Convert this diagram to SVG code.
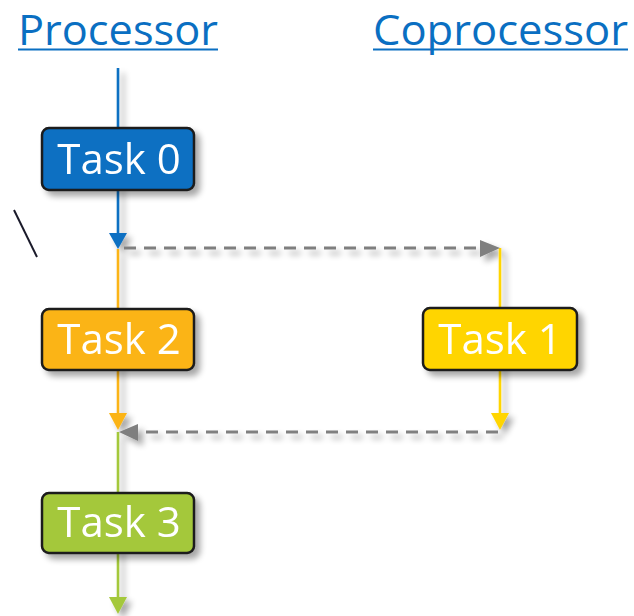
<svg xmlns="http://www.w3.org/2000/svg" width="634" height="616" viewBox="0 0 634 616">
<defs>
<style>
.head{font-family:"Open Sans","DejaVu Sans",sans-serif;font-size:42px;fill:#0a6fc2}
.ul{stroke:#0a6fc2;stroke-width:2.2}
.box{stroke:#1a1a1a;stroke-width:2.5}
.lbl{font-family:"Open Sans","DejaVu Sans",sans-serif;font-size:42px;fill:#ffffff;text-anchor:middle}
.dash{stroke:#7f7f7f;stroke-width:3;stroke-dasharray:12 8;fill:none}
.ln{stroke-width:2.6;fill:none}
</style>
<filter id="sh" x="-20%" y="-20%" width="150%" height="160%">
<feGaussianBlur in="SourceAlpha" stdDeviation="3"/>
<feOffset dx="5" dy="5" result="b"/>
<feComponentTransfer><feFuncA type="linear" slope="0.35"/></feComponentTransfer>
<feMerge><feMergeNode/><feMergeNode in="SourceGraphic"/></feMerge>
</filter>
</defs>
<rect width="634" height="616" fill="#ffffff"/>
<g id="headers">
<text class="head" x="18" y="45" textLength="200" lengthAdjust="spacingAndGlyphs">Processor</text>
<line class="ul" x1="18" y1="49.5" x2="218" y2="49.5"/>
<text class="head" x="373" y="45" textLength="255" lengthAdjust="spacingAndGlyphs">Coprocessor</text>
<line class="ul" x1="373" y1="49.5" x2="628" y2="49.5"/>
</g>
<g id="connectors" filter="url(#sh)">
<line class="ln" stroke="#0a6fc2" x1="118" y1="68" x2="118" y2="234"/>
<polygon fill="#0a6fc2" points="109,233 127,233 118,249"/>
<line class="ln" stroke="#fbb416" x1="118" y1="249" x2="118" y2="414"/>
<polygon fill="#fbb416" points="109,413 127,413 118,430"/>
<line class="ln" stroke="#a4c83a" x1="118" y1="432" x2="118" y2="598"/>
<polygon fill="#a4c83a" points="109,597 127,597 118,614"/>
<line class="ln" stroke="#ffd500" x1="500" y1="248" x2="500" y2="414"/>
<polygon fill="#ffd500" points="491,413 509,413 500,430"/>
<line class="dash" x1="124" y1="248" x2="482" y2="248"/>
<polygon fill="#7f7f7f" points="480,240 480,257 500,248"/>
<line class="dash" x1="498" y1="432" x2="138" y2="432"/>
<polygon fill="#7f7f7f" points="138,424 138,441 119,432"/>
</g>
<line id="slash" x1="14" y1="210" x2="37" y2="257" stroke="#1a1a2a" stroke-width="2"/>
<g id="task0" filter="url(#sh)">
<rect class="box" x="42" y="128" width="152" height="62" rx="7" fill="#0a6fc2"/>
<text class="lbl" x="119" y="174">Task 0</text>
</g>
<g id="task2" filter="url(#sh)">
<rect class="box" x="42" y="309" width="152" height="61" rx="7" fill="#fbb416"/>
<text class="lbl" x="119" y="354">Task 2</text>
</g>
<g id="task1" filter="url(#sh)">
<rect class="box" x="423" y="308" width="154" height="62" rx="7" fill="#ffd500"/>
<text class="lbl" x="500" y="354">Task 1</text>
</g>
<g id="task3" filter="url(#sh)">
<rect class="box" x="42" y="493" width="152" height="60" rx="7" fill="#a4c83a"/>
<text class="lbl" x="119" y="537">Task 3</text>
</g>
</svg>
